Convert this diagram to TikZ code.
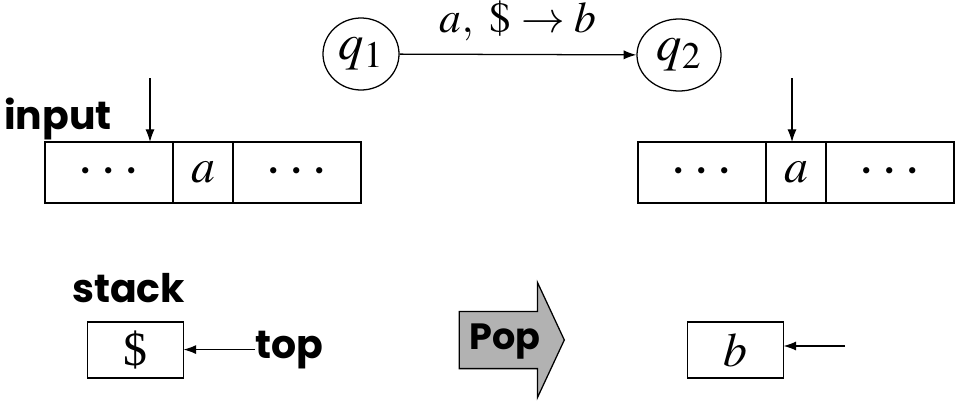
\documentclass[tikz,border=0pt]{standalone}
\usepackage{mathptmx}
\usepackage{fontspec}
\setmainfont{Liberation Serif}
\setsansfont{Poppins}
\usetikzlibrary{arrows.meta,positioning,shapes.geometric,shapes.arrows}
\tikzset{
  cell/.style={draw,line width=0.9pt,outer sep=0pt,inner sep=0pt,minimum height=1.525cm,font=\fontsize{34}{40}\selectfont},
  cellw/.style={cell,minimum width=3.2cm},
  cellm/.style={cell,minimum width=1.5cm},
  qstate/.style={ellipse,draw,line width=0.9pt,inner sep=0pt,minimum width=1.9cm,minimum height=1.8cm,font=\fontsize{36}{42}\selectfont},
  slot/.style={draw,line width=0.9pt,outer sep=0pt,inner sep=0pt,minimum width=2.4cm,minimum height=1.4cm,font=\fontsize{34}{40}\selectfont},
  word/.style={inner sep=0pt,font=\sffamily\bfseries\fontsize{28}{34}\selectfont},
  arr/.style={-{Latex[length=9pt,width=6.5pt]},line width=0.9pt},
  popshape/.style={single arrow,draw,line width=0.9pt,fill=black!30,inner xsep=3pt,inner ysep=0pt,
    text height=27pt,text depth=12.8pt,minimum height=2.625cm,minimum width=2.85cm,
    single arrow head extend=0.725cm,single arrow tip angle=130,
    font=\sffamily\bfseries\fontsize{26}{32}\selectfont},
}
\newcommand{\tapedots}{{\fontsize{42}{42}\selectfont$\cdots$}}
\begin{document}
\begin{tikzpicture}[x=0.025cm,y=-0.025cm]
\useasboundingbox (0,0) rectangle (960,401);
% transition
\node[qstate] (q1) at (361,54) {$q_{1}$};
\node[qstate,minimum width=2.1cm] (q2) at (679,55) {$q_{2}$};
\draw[arr] (q1) -- node[above=9pt,inner sep=0pt,font=\fontsize{31}{36}\selectfont] {$a,\ \$\rightarrow b$} (q2);
% input tape before
\node[word,anchor=base west] (inlbl) at (4,129) {input};
\node[cellw] (l1) at (109,172.5) {\tapedots};
\node[cellm,right=0pt of l1] (l2) {$a$};
\node[cellw,right=0pt of l2] (l3) {\tapedots};
\coordinate (inhead) at (150,78);
\draw[arr] (inhead) -- (inhead |- l1.north);
% input tape after
\node[cellw] (r1) at (702,172.5) {\tapedots};
\node[cellm,right=0pt of r1] (r2) {$a$};
\node[cellw,right=0pt of r2] (r3) {\tapedots};
\coordinate (outhead) at (792,78);
\draw[arr] (outhead) -- (outhead |- r2.north);
% stack before
\node[word,anchor=base west] (stklbl) at (72,302) {stack};
\node[slot] (dollar) at (135.5,350) {\$};
\node[word,anchor=base west] (toplbl) at (255,358) {top};
\draw[arr] (toplbl.west) -- (dollar.east |- toplbl.west);
% pop
\node[popshape,anchor=tip] (pop) at (565,340) {Pop};
% stack after
\node[slot] (bslot) at (735.5,350) {$b$};
\coordinate (newtop) at (845,346);
\draw[arr] (newtop) -- (bslot.east |- newtop);
\end{tikzpicture}
\end{document}
